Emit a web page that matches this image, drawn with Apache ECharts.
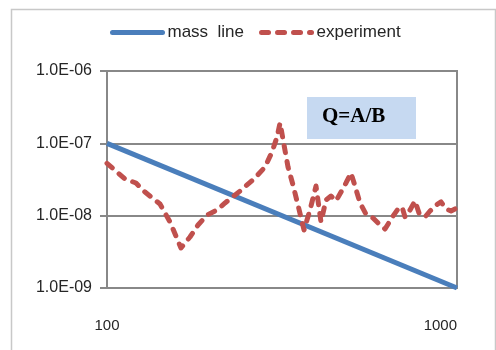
<!DOCTYPE html>
<html>
<head>
<meta charset="utf-8">
<script src="https://cdn.jsdelivr.net/npm/echarts@6/dist/echarts.min.js"></script>
<style>
  html, body { margin: 0; padding: 0; background: #fff; }
  #main { width: 496px; height: 350px; }
</style>
</head>
<body>
<div id="main"></div>
<script>
// mass line end points (log-log straight line)
const massX = [100, 1000];
const massY = [1e-7, 1e-9];

// experiment
const expX = [100, 112.6, 121, 128.4, 141.7, 151.4, 157.4, 162.7, 172.6, 182, 193.1, 206.2, 217.4, 239.9,
  264.8, 282.8, 296.1, 306, 312.2, 320.5, 329, 340, 351.3, 365.5, 380.2, 395.5, 408.7, 422.4, 436.5,
  451.1, 466.3, 481.8, 497.9, 511.2, 528.3, 549.5, 575.4, 598.6, 622.8, 656.5, 678.5, 696.6, 710.4,
  734.2, 758.6, 778.8, 810.2, 837.3, 871, 900.2, 930.3, 961.4, 1000];
const expY = [5.3e-8, 3.21e-8, 2.83e-8, 2.12e-8, 1.45e-8, 8.17e-9, 5.24e-9, 3.57e-9, 5.07e-9, 7.43e-9,
  1.02e-8, 1.2e-8, 1.5e-8, 2.19e-8, 3.32e-8, 4.71e-8, 7.59e-8, 1.22e-7, 1.91e-7, 9.48e-8, 4.71e-8,
  2.65e-8, 1.4e-8, 6.34e-9, 1.2e-8, 2.57e-8, 8.17e-9, 1.65e-8, 1.87e-8, 1.6e-8, 2.12e-8, 2.83e-8,
  3.89e-8, 2.57e-8, 1.5e-8, 1.05e-8, 9.29e-9, 7.67e-9, 6.54e-9, 9.89e-9, 1.24e-8, 1.32e-8, 9.58e-9,
  1.2e-8, 1.6e-8, 1.09e-8, 9.58e-9, 1.16e-8, 1.4e-8, 1.55e-8, 1.24e-8, 1.16e-8, 1.28e-8];

const seriesNames = ['mass  line', 'experiment'];
const noteText = 'Q=A/B';

const zip = (xs, ys) => xs.map((x, i) => [x, ys[i]]);
const font = "'Liberation Sans', Arial, sans-serif";
const grey = '#888888';

let myChart = echarts.init(document.getElementById('main'));

let option = {
    animation: false,
    textStyle: {fontFamily: font},
    grid: {
        left: 107, right: 39, top: 71, bottom: 62,
        show: true, borderColor: grey, borderWidth: 2
    },
    legend: {
        left: 110,
        top: 24,
        padding: 0,
        itemWidth: 50,
        itemHeight: 16,
        itemGap: 15,
        itemStyle: {opacity: 0},
        lineStyle: {width: 5, cap: 'round'},
        textStyle: {fontSize: 17, color: '#262626', fontFamily: font},
        data: seriesNames
    },
    xAxis: {
        type: 'log',
        logBase: 10,
        min: 100,
        max: 1000,
        axisLine: {show: true, lineStyle: {color: grey, width: 2}},
        axisTick: {show: false},
        splitLine: {show: false},
        axisLabel: {
            margin: 30,
            fontSize: 15,
            color: '#262626',
            alignMaxLabel: 'right',
            formatter: function (v) { return String(Math.round(v)); }
        }
    },
    yAxis: {
        type: 'log',
        logBase: 10,
        min: 1e-9,
        max: 1e-6,
        axisLine: {show: true, lineStyle: {color: grey, width: 2}},
        axisTick: {show: true, inside: false, length: 7, lineStyle: {color: grey, width: 2}},
        splitLine: {show: true, lineStyle: {color: grey, width: 2}},
        axisLabel: {
            margin: 15,
            fontSize: 16,
            color: '#262626',
            formatter: function (v) {
                let n = Math.round(-Math.log10(v));
                return '1.0E-' + String(n).padStart(2, '0');
            }
        }
    },
    graphic: [
        {
            type: 'rect',
            left: 9, top: 7,
            shape: {width: 484, height: 400},
            style: {fill: 'none', stroke: '#c8c8c8', lineWidth: 1.5},
            silent: true
        },
        {
            type: 'rect',
            left: 307, top: 97,
            shape: {width: 109, height: 42},
            style: {fill: '#c6d9f1'},
            z: 10
        },
        {
            type: 'text',
            left: 322, top: 106,
            style: {
                text: noteText,
                font: "bold 21px 'Liberation Serif', 'Times New Roman', serif",
                fill: '#000'
            },
            z: 11
        }
    ],
    series: [
        {
            name: seriesNames[0],
            type: 'line',
            symbol: 'none',
            data: zip(massX, massY),
            lineStyle: {color: '#4a7ebb', width: 5},
            itemStyle: {color: '#4a7ebb'},
            z: 2
        },
        {
            name: seriesNames[1],
            type: 'line',
            symbol: 'none',
            data: zip(expX, expY),
            lineStyle: {color: '#c0504d', width: 5, type: [7, 9], cap: 'round', join: 'round'},
            itemStyle: {color: '#c0504d'},
            z: 3
        }
    ]
};
myChart.setOption(option);
</script>
</body>
</html>
